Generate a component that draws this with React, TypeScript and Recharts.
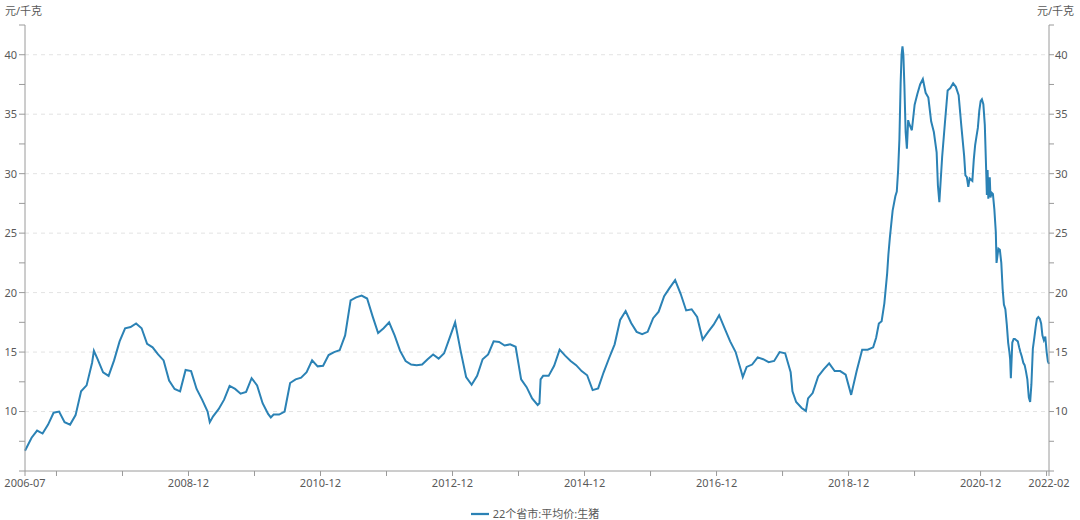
import { LineChart, Line, XAxis, YAxis, ReferenceLine, Legend } from 'recharts';

// 22个省市:平均价:生猪 (元/千克)
const dates: string[] = [
  '2006-07-09', '2006-08-15', '2006-09-15', '2006-10-15', '2006-11-15', '2006-12-15',
  '2007-01-15', '2007-02-15', '2007-03-15', '2007-04-15', '2007-05-15', '2007-06-15', '2007-07-15', '2007-07-25', '2007-08-15', '2007-09-15', '2007-10-15', '2007-11-15', '2007-12-15',
  '2008-01-15', '2008-02-15', '2008-03-15', '2008-04-15', '2008-05-15', '2008-06-15', '2008-07-15', '2008-08-15', '2008-09-15', '2008-10-15', '2008-11-15', '2008-12-15',
  '2009-01-15', '2009-02-15', '2009-03-15', '2009-04-15', '2009-04-27', '2009-05-15', '2009-06-15', '2009-07-15', '2009-08-15', '2009-09-15', '2009-10-15', '2009-11-15', '2009-12-15',
  '2010-01-15', '2010-02-15', '2010-03-15', '2010-03-30', '2010-04-15', '2010-05-15', '2010-06-15', '2010-07-15', '2010-08-15', '2010-09-15', '2010-10-15', '2010-11-15', '2010-12-15',
  '2011-01-15', '2011-02-15', '2011-03-15', '2011-04-15', '2011-05-15', '2011-06-15', '2011-07-15', '2011-08-15', '2011-09-15', '2011-10-15', '2011-11-15', '2011-12-15',
  '2012-01-15', '2012-02-15', '2012-03-15', '2012-04-15', '2012-05-15', '2012-06-15', '2012-07-15', '2012-08-15', '2012-09-15', '2012-10-15', '2012-11-15', '2012-12-15',
  '2013-01-15', '2013-02-15', '2013-03-15', '2013-04-15', '2013-05-15', '2013-06-15', '2013-07-15', '2013-08-15', '2013-09-15', '2013-10-15', '2013-11-15', '2013-12-15',
  '2014-01-15', '2014-02-15', '2014-03-15', '2014-04-15', '2014-04-25', '2014-05-01', '2014-05-15', '2014-06-15', '2014-07-15', '2014-08-15', '2014-09-15', '2014-10-15', '2014-11-15', '2014-12-15',
  '2015-01-15', '2015-02-15', '2015-03-15', '2015-04-15', '2015-05-15', '2015-06-15', '2015-07-15', '2015-08-15', '2015-09-15', '2015-10-15', '2015-11-15', '2015-12-15',
  '2016-01-15', '2016-02-15', '2016-03-15', '2016-04-15', '2016-05-15', '2016-06-15', '2016-07-15', '2016-08-15', '2016-09-15', '2016-10-15', '2016-11-15', '2016-12-15',
  '2017-01-15', '2017-02-15', '2017-03-15', '2017-04-15', '2017-05-15', '2017-05-24', '2017-06-15', '2017-07-15', '2017-08-15', '2017-09-15', '2017-10-15', '2017-11-15', '2017-12-15',
  '2018-01-15', '2018-02-15', '2018-02-25', '2018-03-15', '2018-04-15', '2018-05-08', '2018-05-20', '2018-06-15', '2018-07-15', '2018-08-15', '2018-09-15', '2018-10-15', '2018-11-15', '2018-12-15',
  '2019-01-15', '2019-02-15', '2019-03-15', '2019-04-15', '2019-05-15', '2019-06-01', '2019-06-16', '2019-07-01', '2019-07-16', '2019-08-01', '2019-08-08', '2019-08-16', '2019-08-24',
  '2019-09-01', '2019-09-16', '2019-09-24', '2019-10-01', '2019-10-08', '2019-10-15', '2019-10-20', '2019-10-25', '2019-10-30', '2019-11-05', '2019-11-12', '2019-11-19', '2019-11-26', '2019-12-01', '2019-12-16',
  '2020-01-01', '2020-01-16', '2020-02-01', '2020-02-16', '2020-03-01', '2020-03-16', '2020-04-01', '2020-04-16', '2020-05-01', '2020-05-08', '2020-05-16', '2020-06-01', '2020-06-16', '2020-07-01', '2020-07-16',
  '2020-08-01', '2020-08-16', '2020-09-01', '2020-09-16', '2020-10-01', '2020-10-08', '2020-10-16', '2020-10-24', '2020-11-01', '2020-11-16', '2020-11-24', '2020-12-01', '2020-12-08', '2020-12-16', '2020-12-24',
  '2021-01-01', '2021-01-08', '2021-01-16', '2021-01-24', '2021-02-01', '2021-02-05', '2021-02-09', '2021-02-13', '2021-02-17', '2021-02-21', '2021-02-25',
  '2021-03-01', '2021-03-08', '2021-03-16', '2021-03-24', '2021-03-28', '2021-04-01', '2021-04-08', '2021-04-16', '2021-04-24', '2021-05-01', '2021-05-08', '2021-05-16', '2021-05-24',
  '2021-06-01', '2021-06-08', '2021-06-12', '2021-06-16', '2021-06-24', '2021-07-01', '2021-07-08', '2021-07-16', '2021-07-24', '2021-08-01', '2021-08-08', '2021-08-16', '2021-08-24',
  '2021-09-01', '2021-09-08', '2021-09-16', '2021-09-24', '2021-10-01', '2021-10-08', '2021-10-16', '2021-10-24', '2021-11-01', '2021-11-08', '2021-11-16', '2021-11-24',
  '2021-12-01', '2021-12-08', '2021-12-16', '2021-12-24',
  '2022-01-01', '2022-01-08', '2022-01-14',
];

const prices: number[] = [
  6.7, 7.8, 8.4, 8.15, 8.9, 9.9,
  10.0, 9.1, 8.9, 9.7, 11.7, 12.2, 14.1, 15.1, 14.4, 13.3, 13.0, 14.3, 15.9,
  17.0, 17.1, 17.4, 17.0, 15.7, 15.4, 14.8, 14.3, 12.6, 11.9, 11.7, 13.5,
  13.4, 11.9, 11.0, 10.0, 9.1, 9.6, 10.2, 11.0, 12.15, 11.9, 11.5, 11.65, 12.8,
  12.2, 10.7, 9.8, 9.5, 9.75, 9.75, 10.0, 12.4, 12.7, 12.85, 13.3, 14.3, 13.8,
  13.85, 14.75, 15.0, 15.15, 16.4, 19.35, 19.6, 19.75, 19.5, 18.0, 16.6, 17.0,
  17.5, 16.4, 15.1, 14.25, 13.95, 13.9, 13.95, 14.4, 14.8, 14.45, 14.9, 16.2,
  17.5, 15.1, 12.9, 12.25, 13.0, 14.4, 14.8, 15.9, 15.85, 15.55, 15.65, 15.45,
  12.7, 12.05, 11.1, 10.55, 10.7, 12.7, 13.0, 13.0, 13.85, 15.2, 14.7, 14.25, 13.9, 13.4,
  13.05, 11.8, 11.95, 13.3, 14.5, 15.65, 17.7, 18.45, 17.45, 16.7, 16.5, 16.7,
  17.85, 18.4, 19.7, 20.4, 21.05, 19.9, 18.5, 18.6, 17.95, 16.05, 16.7, 17.3,
  18.1, 17.0, 15.9, 15.0, 13.4, 12.9, 13.75, 13.95, 14.55, 14.4, 14.15, 14.25, 15.0,
  14.9, 13.3, 11.7, 10.8, 10.3, 10.05, 11.1, 11.55, 12.95, 13.55, 14.05, 13.4, 13.4, 13.1,
  11.4, 13.4, 15.2, 15.2, 15.4, 16.2, 17.4, 17.6, 19.1, 21.6, 23.2, 24.6, 25.8,
  26.9, 28.1, 28.5, 30.3, 32.9, 37.7, 40.0, 40.7, 40.0, 37.5, 33.5, 32.1, 34.5, 34.2, 33.65,
  35.8, 36.7, 37.5, 37.95, 36.8, 36.4, 34.4, 33.5, 31.8, 29.0, 27.6, 31.4, 34.2, 37.0, 37.2,
  37.6, 37.3, 36.6, 34.0, 31.5, 29.85, 29.7, 28.9, 29.6, 29.4, 31.2, 32.4, 33.1, 33.85, 35.3,
  36.1, 36.25, 35.85, 34.1, 30.4, 28.2, 30.3, 27.9, 29.0, 29.7, 28.0,
  28.4, 28.3, 27.0, 25.1, 22.5, 22.9, 23.7, 23.6, 22.5, 20.3, 19.0, 18.6, 17.3,
  15.8, 15.0, 14.4, 12.8, 15.8, 16.1, 16.1, 16.0, 15.9, 15.4, 15.0, 14.6, 14.1,
  13.9, 13.4, 12.7, 11.2, 10.8, 12.3, 15.3, 16.2, 17.1, 17.8, 17.95, 17.8,
  17.4, 16.4, 16.0, 16.3,
  15.0, 14.2, 14.0,
];

const yTicks = [5, 7.5, 10, 12.5, 15, 17.5, 20, 22.5, 25, 27.5, 30, 32.5, 35, 37.5, 40, 42.5];
const gridValues = [10, 15, 20, 25, 30, 35, 40];

const xTickDates = [
  '2006-07-09', '2006-12-31', '2007-12-31', '2008-12-31', '2009-12-31', '2010-12-31',
  '2011-12-31', '2012-12-31', '2013-12-31', '2014-12-31', '2015-12-31', '2016-12-31',
  '2017-12-31', '2018-12-31', '2019-12-31', '2020-12-31', '2021-12-31', '2022-01-14',
];
const xTickLabels = [
  '2006-07', '', '', '2008-12', '', '2010-12',
  '', '2012-12', '', '2014-12', '', '2016-12',
  '', '2018-12', '', '2020-12', '', '2022-02',
];

const SERIES_NAME = '22个省市:平均价:生猪';
const LINE_COLOR = '#2b82b5';
const TEXT_COLOR = '#595959';
const AXIS_COLOR = '#9a9a9a';

const toYear = (d: string) => {
  const [y, m, day] = d.split('-').map(Number);
  return y + (m - 1) / 12 + (day - 1) / 365;
};

const data = dates.map((d, i) => ({ t: toYear(d), price: prices[i] }));
const xTicks = xTickDates.map(toYear);

const xLabel = (v: number) => {
  const i = xTicks.findIndex((t) => Math.abs(t - v) < 1e-6);
  return i >= 0 ? xTickLabels[i] : '';
};
const yLabel = (v: number) => (v % 5 === 0 && v >= 10 ? String(v) : '');

const unitStyle: React.CSSProperties = {
  position: 'absolute',
  top: 4,
  fontSize: 11,
  lineHeight: '14px',
  color: TEXT_COLOR,
};

export default function App() {
  return (
    <div
      style={{
        position: 'absolute',
        left: 0,
        top: 0,
        width: 1080,
        height: 520,
        background: '#fff',
        fontFamily: '"Noto Sans", "Noto Sans CJK SC", sans-serif',
      }}
    >
      <div style={{ ...unitStyle, left: 5 }}>元/千克</div>
      <div style={{ ...unitStyle, right: 6 }}>元/千克</div>
      <LineChart width={1080} height={520} data={data} margin={{ top: 25, right: 0, bottom: 0, left: 0 }}>
        <XAxis
          dataKey="t"
          type="number"
          domain={['dataMin', 'dataMax']}
          ticks={xTicks}
          interval={0}
          tickFormatter={xLabel}
          height={30}
          tickSize={5}
          tickMargin={3}
          stroke={AXIS_COLOR}
          tick={{ fontSize: 11, fill: TEXT_COLOR }}
        />
        <YAxis
          yAxisId="left"
          domain={[5, 42.5]}
          ticks={yTicks}
          interval={0}
          tickFormatter={yLabel}
          width={25}
          tickSize={6}
          tickMargin={2}
          stroke={AXIS_COLOR}
          tick={{ fontSize: 11, fill: TEXT_COLOR }}
        />
        <YAxis
          yAxisId="right"
          orientation="right"
          domain={[5, 42.5]}
          ticks={yTicks}
          interval={0}
          tickFormatter={yLabel}
          width={31}
          tickSize={5}
          tickMargin={1}
          stroke={AXIS_COLOR}
          tick={{ fontSize: 11, fill: TEXT_COLOR }}
        />
        {gridValues.map((v) => (
          <ReferenceLine key={v} yAxisId="left" y={v} stroke="#e3e3e3" strokeDasharray="4 4" />
        ))}
        <Legend
          verticalAlign="bottom"
          height={19}
          iconType="plainline"
          iconSize={18}
          formatter={(value) => <span style={{ color: TEXT_COLOR, fontSize: 11 }}>{value}</span>}
        />
        {/* invisible twin so the right axis gets its ticks */}
        <Line
          yAxisId="right"
          type="linear"
          dataKey="price"
          stroke="none"
          legendType="none"
          dot={false}
          activeDot={false}
          isAnimationActive={false}
        />
        <Line
          yAxisId="left"
          type="linear"
          dataKey="price"
          name={SERIES_NAME}
          stroke={LINE_COLOR}
          strokeWidth={2}
          dot={false}
          isAnimationActive={false}
        />
      </LineChart>
    </div>
  );
}
